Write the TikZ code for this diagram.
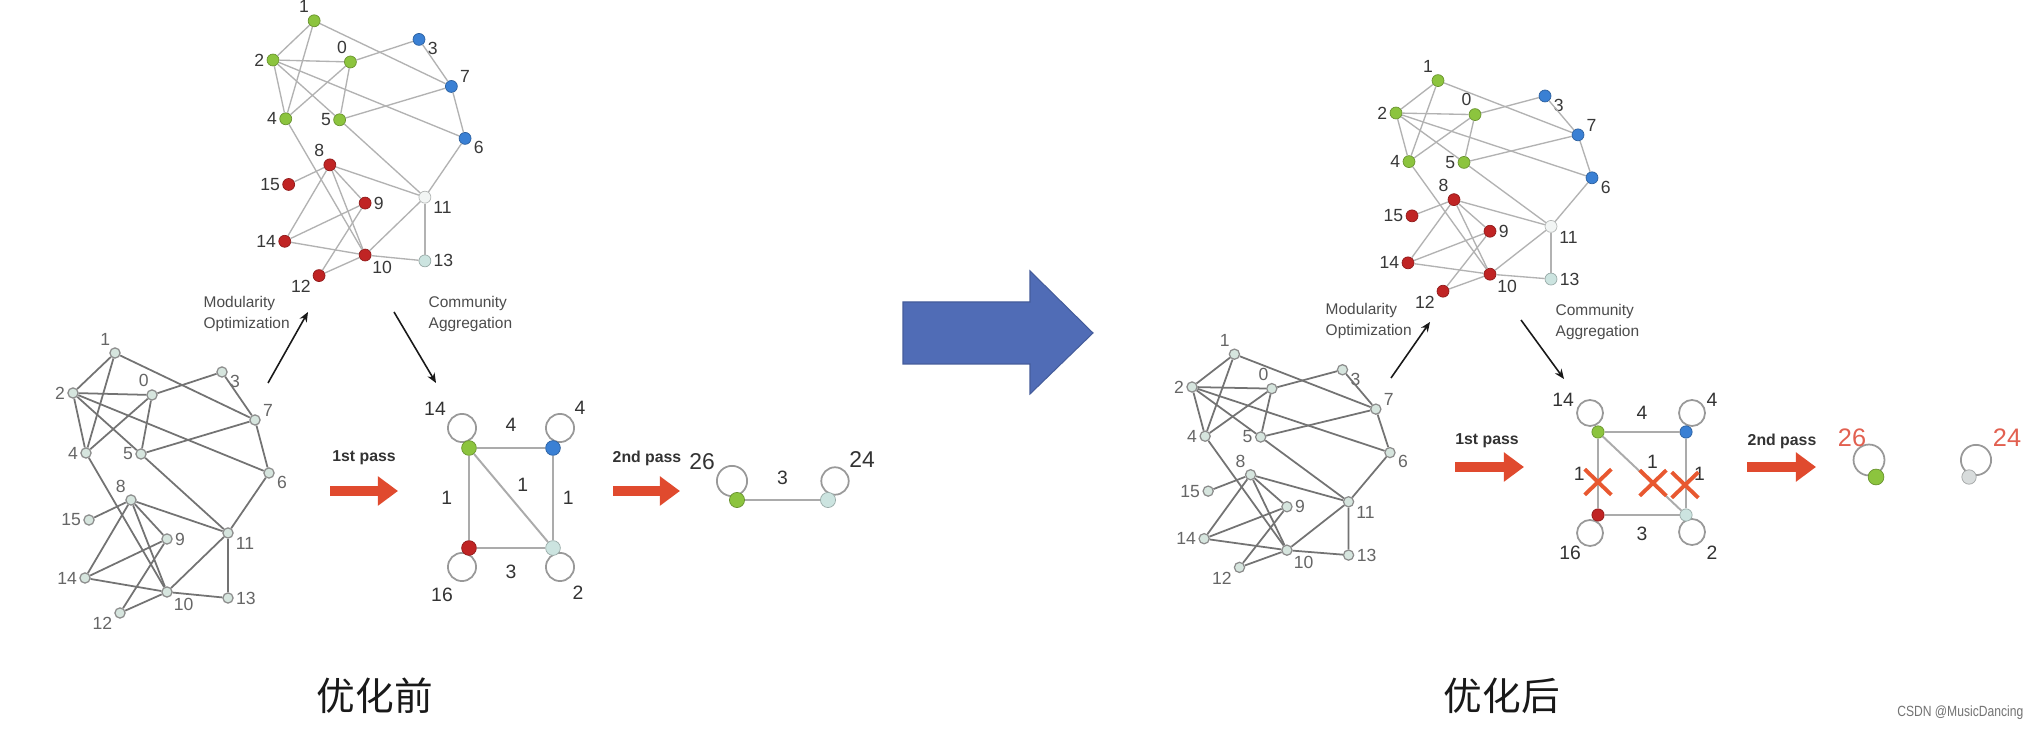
\documentclass[tikz,border=0pt]{standalone}
\usepackage{fontspec}
\setmainfont{Liberation Sans}
\newfontfamily\cjk{Noto Sans CJK SC}
\newfontfamily\wmfont[FakeStretch=0.82]{Liberation Sans}
\usetikzlibrary{arrows.meta,calc,positioning,shapes.misc}
\pgfdeclarelayer{paper}
\pgfdeclarelayer{bg}
\pgfsetlayers{paper,bg,main}

\definecolor{ngreen}{RGB}{140,196,62}
\definecolor{nblue}{RGB}{58,128,212}
\definecolor{nred}{RGB}{192,36,36}
\definecolor{nwhite}{RGB}{242,245,244}
\definecolor{ncyan}{RGB}{204,228,224}
\definecolor{nplain}{RGB}{214,229,222}
\definecolor{ngray}{RGB}{216,220,220}
\definecolor{passred}{RGB}{224,74,46}
\definecolor{crossred}{RGB}{232,88,48}
\definecolor{sizered}{RGB}{226,96,80}
\definecolor{bigblue}{RGB}{80,108,182}

%% 16-node example network: nodes, then edges (prefix = #1)
\newcommand{\drawlouvain}[1]{%
  \foreach \i/\x/\y/\c/\a in {0/79/2/ngreen/100, 1/42/-40/ngreen/115, 2/0/0/ngreen/180,
      3/149/-21/nblue/-5, 4/13/60/ngreen/180, 5/68/61/ngreen/180, 6/196/80/nblue/-5,
      7/182/27/nblue/10, 8/58/107/nred/120, 9/94/146/nred/0, 10/94/199/nred/-40,
      11/155/140/nwhite/-20, 12/47/220/nred/200, 13/155/205/ncyan/0,
      14/12/185/nred/180, 15/16/127/nred/180}
    \node[netnode=\c, label={[netlabel]\a:\i}] (#1\i) at (\x,\y) {};
  \foreach \u/\v in {0/2,0/3,0/4,0/5,1/2,1/4,1/7,2/4,2/5,2/6,3/7,4/10,5/7,5/11,
      6/7,6/11,8/9,8/10,8/11,8/14,8/15,9/12,9/14,10/11,10/12,10/13,10/14,11/13}
    \draw[netedge] (#1\u) -- (#1\v);
}

\begin{document}
\begin{tikzpicture}[x=0.01cm, y=-0.01cm,
  netnode/.style={circle, inner sep=0pt, minimum size=3.4pt, fill=#1, draw=#1!75!black, line width=0.2pt},
  netedge/.style={draw=black!30, line width=0.38pt},
  netlabel/.style={font=\fontsize{5}{5}\selectfont, text=black!78, inner sep=0.5pt},
  plainnet/.style={netnode/.style={circle, inner sep=0pt, minimum size=2.9pt, fill=nplain, draw=black!45, line width=0.35pt},
    netedge/.append style={draw=black!55, line width=0.5pt},
    netlabel/.append style={text=black!60}},
  aggnode/.style={circle, inner sep=0pt, minimum size=4.2pt, fill=#1, draw=#1!75!black, line width=0.2pt},
  aggedge/.style={draw=black!33, line width=0.55pt},
  selfloop/.style={draw=black!40, line width=0.5pt},
  agglabel/.style={font=\fontsize{5.5}{5.5}\selectfont, text=black!80, inner sep=0.5pt},
  steptext/.style={font=\fontsize{4.4}{6}\selectfont, text=black!70, align=left, inner sep=0pt, anchor=west},
  flowarrow/.style={-{Stealth[length=2.8pt,width=2.3pt]}, draw=black!90, line width=0.45pt},
  passarrow/.style={-{Triangle[length=5.7pt,width=8pt]}, draw=passred, line width=2.85pt},
  passtext/.style={font=\bfseries\fontsize{4.5}{4.5}\selectfont, text=black!80},
  crossmark/.style={cross out, draw=crossred, line width=1.1pt, minimum width=6.5pt, minimum height=6.2pt, inner sep=0pt},
  sizetext/.style={font=\fontsize{7.2}{7.2}\selectfont, text=sizered, inner sep=0pt},
  captext/.style={font=\cjk\fontsize{11}{11}\selectfont, text=black!90}]

  \begin{pgfonlayer}{paper}
    \fill[white] (0,0) rectangle (2036,734);
  \end{pgfonlayer}
  \useasboundingbox (0,0) rectangle (2036,734);

  %% ── Left half: before optimisation ─────────────────────────
  \begin{scope}[shift={(273,60)}, scale=0.98]
    \drawlouvain{lt}
  \end{scope}
  \begin{scope}[shift={(73,393)}, plainnet]
    \drawlouvain{lb}
  \end{scope}

  %% step arrows and texts
  \coordinate (optL0) at (268,383);
  \coordinate (optL1) at (308,312);
  \coordinate (aggL0) at (394,312);
  \coordinate (aggL1) at (436,383);
  \draw[flowarrow] (optL0) -- (optL1);
  \draw[flowarrow] (aggL0) -- (aggL1);
  \node[steptext] (optLtext) at (203,314) {Modularity\\Optimization};
  \node[steptext] (aggLtext) at (428,314) {Community\\Aggregation};

  %% first pass
  \node[passtext] (passL1) at (364,458) {1st pass};
  \coordinate (passL1a) at (330,491);
  \coordinate (passL1b) at (398,491);
  \draw[passarrow] (passL1a) -- (passL1b);

  %% aggregated graph
  \node[aggnode=ngreen] (aggLg) at (469,448) {};
  \node[aggnode=nblue]  (aggLb) at (553,448) {};
  \node[aggnode=nred]   (aggLr) at (469,548) {};
  \node[aggnode=ncyan]  (aggLc) at (553,548) {};
  \begin{pgfonlayer}{bg}
    \draw[selfloop] ($(aggLg)+(-7,-20)$) circle[radius=4pt];
    \draw[selfloop] ($(aggLb)+(7,-20)$) circle[radius=4pt];
    \draw[selfloop] ($(aggLr)+(-7,19)$) circle[radius=4pt];
    \draw[selfloop] ($(aggLc)+(7,19)$) circle[radius=4pt];
  \end{pgfonlayer}
  \draw[aggedge] (aggLg) -- node[agglabel, above=3.8pt] {4} (aggLb);
  \draw[aggedge] (aggLg) -- node[agglabel, left=4pt] {1} (aggLr);
  \draw[aggedge] (aggLg) -- node[agglabel, above right=1.5pt] {1} (aggLc);
  \draw[aggedge] (aggLb) -- node[agglabel, right=2pt] {1} (aggLc);
  \draw[aggedge] (aggLr) -- node[agglabel, below=4pt] {3} (aggLc);
  \node[agglabel] (sizeLg) at (435,409) {14};
  \node[agglabel] (sizeLb) at (580,408) {4};
  \node[agglabel] (sizeLr) at (442,595) {16};
  \node[agglabel] (sizeLc) at (578,593) {2};

  %% second pass
  \node[passtext] (passL2) at (647,458) {2nd pass};
  \coordinate (passL2a) at (613,491);
  \coordinate (passL2b) at (680,491);
  \draw[passarrow] (passL2a) -- (passL2b);
  \node[aggnode=ngreen, minimum size=4.3pt] (finLg) at (737,500) {};
  \node[aggnode=ncyan, minimum size=4.3pt]  (finLc) at (828,500) {};
  \begin{pgfonlayer}{bg}
    \draw[selfloop] ($(finLg)+(-5,-19)$) circle[radius=4.3pt];
    \draw[selfloop] ($(finLc)+(7,-19)$) circle[radius=3.9pt];
  \end{pgfonlayer}
  \draw[aggedge] (finLg) -- node[agglabel, above=3.5pt] {3} (finLc);
  \node[agglabel, font=\fontsize{6.5}{6.5}\selectfont] (sizeL26) at (702,462) {26};
  \node[agglabel, font=\fontsize{6.5}{6.5}\selectfont] (sizeL24) at (862,460) {24};

  \node[captext] (capL) at (375,696) {优化前};

  %% ── Middle: big arrow ──────────────────────────────────────
  \fill[bigblue, draw=bigblue!85!black, line width=0.3pt]
    (903,302) -- (1030,302) -- (1030,271) -- (1093,333) -- (1030,394) -- (1030,364) -- (903,364) -- cycle;

  %% ── Right half: after optimisation ─────────────────────────
  \begin{scope}[shift={(1396,113)}, xscale=1.0, yscale=0.81]
    \drawlouvain{rt}
  \end{scope}
  \begin{scope}[shift={(1192,387)}, xscale=1.01, yscale=0.82, plainnet]
    \drawlouvain{rb}
  \end{scope}

  \coordinate (optR0) at (1391,378);
  \coordinate (optR1) at (1430,322);
  \coordinate (aggR0) at (1521,320);
  \coordinate (aggR1) at (1564,379);
  \draw[flowarrow] (optR0) -- (optR1);
  \draw[flowarrow] (aggR0) -- (aggR1);
  \node[steptext] (optRtext) at (1325,321) {Modularity\\Optimization};
  \node[steptext] (aggRtext) at (1555,322) {Community\\Aggregation};

  \node[passtext] (passR1) at (1487,441) {1st pass};
  \coordinate (passR1a) at (1455,467);
  \coordinate (passR1b) at (1524,467);
  \draw[passarrow] (passR1a) -- (passR1b);

  \node[aggnode=ngreen, minimum size=3.5pt] (aggRg) at (1598,432) {};
  \node[aggnode=nblue, minimum size=3.5pt]  (aggRb) at (1686,432) {};
  \node[aggnode=nred, minimum size=3.5pt]   (aggRr) at (1598,515) {};
  \node[aggnode=ncyan, minimum size=3.5pt]  (aggRc) at (1686,515) {};
  \begin{pgfonlayer}{bg}
    \draw[selfloop] ($(aggRg)+(-8,-19)$) circle[radius=3.7pt];
    \draw[selfloop] ($(aggRb)+(6,-19)$) circle[radius=3.7pt];
    \draw[selfloop] ($(aggRr)+(-8,18)$) circle[radius=3.7pt];
    \draw[selfloop] ($(aggRc)+(6,17)$) circle[radius=3.7pt];
  \end{pgfonlayer}
  \draw[aggedge] (aggRg) -- node[agglabel, above=2.7pt] {4} (aggRb);
  \draw[aggedge] (aggRg) -- node[agglabel, left=3pt] {1} (aggRr);
  \draw[aggedge] (aggRg) -- node[agglabel, above right=1pt] {1} (aggRc);
  \draw[aggedge] (aggRb) -- node[agglabel, right=1.5pt] {1} (aggRc);
  \draw[aggedge] (aggRr) -- node[agglabel, below=2.7pt] {3} (aggRc);
  \node[agglabel] (sizeRg) at (1563,400) {14};
  \node[agglabel] (sizeRb) at (1712,400) {4};
  \node[agglabel] (sizeRr) at (1570,553) {16};
  \node[agglabel] (sizeRc) at (1712,553) {2};
  %% removed links
  \node[crossmark] (cutRl) at (1598,482) {};
  \node[crossmark] (cutRd) at (1653,483) {};
  \node[crossmark] (cutRr) at (1685,485) {};

  \node[passtext] (passR2) at (1782,441) {2nd pass};
  \coordinate (passR2a) at (1747,467);
  \coordinate (passR2b) at (1816,467);
  \draw[passarrow] (passR2a) -- (passR2b);
  \node[aggnode=ngreen, minimum size=4.5pt] (finRg) at (1876,477) {};
  \node[aggnode=ngray, minimum size=4.1pt]  (finRc) at (1969,477) {};
  \begin{pgfonlayer}{bg}
    \draw[selfloop] ($(finRg)+(-7,-17)$) circle[radius=4.4pt];
    \draw[selfloop] ($(finRc)+(7,-17)$) circle[radius=4.3pt];
  \end{pgfonlayer}
  \node[sizetext] (sizeR26) at (1852,438) {26};
  \node[sizetext] (sizeR24) at (2007,438) {24};

  \node[captext] (capR) at (1502,696) {优化后};
  \node[anchor=east, inner sep=0pt, text=black!55, font=\wmfont\fontsize{4.2}{4.2}\selectfont] (mark) at (2024,713) {CSDN @MusicDancing};
\end{tikzpicture}
\end{document}
